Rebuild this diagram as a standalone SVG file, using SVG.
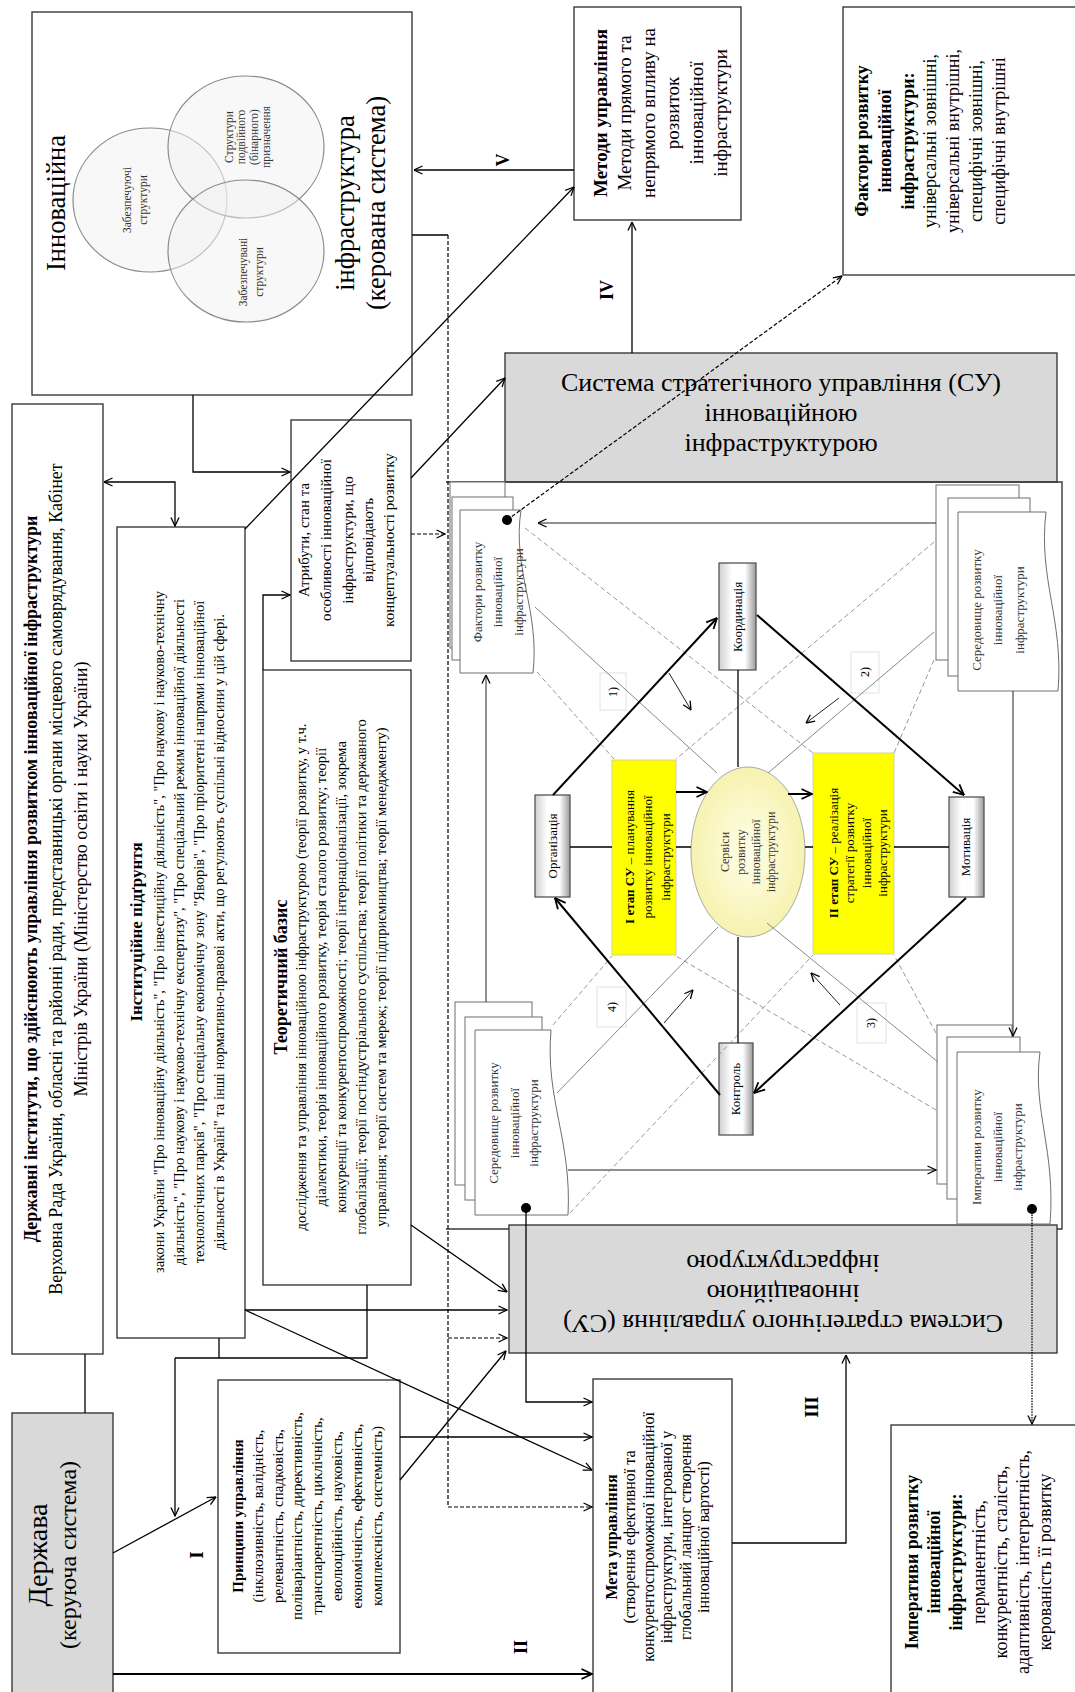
<svg xmlns="http://www.w3.org/2000/svg" width="1075" height="1692" viewBox="0 0 1075 1692">
<defs>
<style>
.t{font-family:"Liberation Serif","Times New Roman",serif;fill:#000}
.b{font-weight:bold}
.bx{fill:#fff;stroke:#3a3a3a;stroke-width:1.4}
.gr{fill:#d9d9d9;stroke:#3a3a3a;stroke-width:1.4}
.stk{fill:#fff;stroke:#6e6e6e;stroke-width:1}
.gb{fill:url(#gg);stroke:#555;stroke-width:1.3}
.ye{fill:#ffff00;stroke:#c8c8a0;stroke-width:0.8}
.lb{fill:#fff;stroke:#e2e2e2;stroke-width:1}
.vn{fill:#f2f2f2;fill-opacity:0.5;stroke:#8a8a8a;stroke-width:1.2}
.c{fill:none;stroke:#000;stroke-width:1.3}
.c1{fill:none;stroke:#222;stroke-width:1}
.ck{fill:none;stroke:#000;stroke-width:2}
.cd{fill:none;stroke:#000;stroke-width:1.2;stroke-dasharray:4 2}
.cp{fill:none;stroke:#000;stroke-width:1.3;stroke-dasharray:1.5 1.2}
.th{fill:none;stroke:#7a7a7a;stroke-width:0.9}
.gd{fill:none;stroke:#8c8c8c;stroke-width:0.9;stroke-dasharray:5 3}
.sm{fill:#333}
</style>
<linearGradient id="gg" x1="0" y1="0" x2="1" y2="0"><stop offset="0" stop-color="#cfcfcf"/><stop offset="0.35" stop-color="#fff"/><stop offset="0.7" stop-color="#fff"/><stop offset="1" stop-color="#9a9a9a"/></linearGradient>
<radialGradient id="eg"><stop offset="0" stop-color="#ffffea"/><stop offset="1" stop-color="#f6f2b0"/></radialGradient>
<marker id="ar" viewBox="0 0 10 10" refX="9.5" refY="5" markerWidth="10" markerHeight="10" markerUnits="userSpaceOnUse" orient="auto-start-reverse"><path d="M1,1 L9.5,5 L1,9" fill="none" stroke="#000" stroke-width="1.3"/></marker>
<marker id="ak" viewBox="0 0 12 12" refX="11.5" refY="6" markerWidth="12" markerHeight="12" markerUnits="userSpaceOnUse" orient="auto"><path d="M1,1 L11.5,6 L1,11" fill="none" stroke="#000" stroke-width="1.8"/></marker>
</defs>
<rect x="0" y="0" width="1075" height="1692" fill="#fff"/>

<g id="innovatsiina">
<rect class="bx" x="32" y="12" width="380" height="383"/>
<ellipse class="vn" cx="150" cy="200" rx="77" ry="72"/>
<ellipse class="vn" cx="246" cy="147" rx="78" ry="71"/>
<ellipse class="vn" cx="246" cy="251" rx="78" ry="71"/>
<text class="t" font-size="26.5" text-anchor="middle" transform="translate(0,203) rotate(-90)"><tspan x="0" y="65">Інноваційна</tspan></text>
<text class="t sm" font-size="11.5" text-anchor="middle" transform="translate(0,200) rotate(-90)"><tspan x="0" y="130.5">Забезпечуючі</tspan><tspan x="0" y="146.5">структури</tspan></text>
<text class="t sm" font-size="11.5" text-anchor="middle" transform="translate(0,137) rotate(-90)"><tspan x="0" y="232.5">Структури</tspan><tspan x="0" y="245">подвійного</tspan><tspan x="0" y="257.5">(бінарного)</tspan><tspan x="0" y="270">призначення</tspan></text>
<text class="t sm" font-size="11.5" text-anchor="middle" transform="translate(0,272) rotate(-90)"><tspan x="0" y="246.5">Забезпечувані</tspan><tspan x="0" y="262.5">структури</tspan></text>
<text class="t" font-size="26.5" text-anchor="middle" transform="translate(0,203) rotate(-90)"><tspan x="0" y="354">інфраструктура</tspan><tspan x="0" y="385">(керована система)</tspan></text>
</g>

<g id="derzhavni-instytuty">
<rect class="bx" x="12" y="404" width="91" height="950"/>
<text class="t" font-size="18" text-anchor="middle" transform="translate(0,879) rotate(-90)"><tspan x="0" y="37" class="b">Державні інститути, що здійснюють управління розвитком інноваційної інфраструктури</tspan><tspan x="0" y="62">Верховна Рада України, обласні та районні ради, представницькі органи місцевого самоврядування, Кабінет</tspan><tspan x="0" y="87">Міністрів України (Міністерство освіти і науки України)</tspan></text>
</g>

<g id="instytutsiine">
<rect class="bx" x="117" y="527" width="128" height="811"/>
<text class="t" font-size="17" text-anchor="middle" transform="translate(0,932) rotate(-90)"><tspan x="0" y="142" class="b">Інституційне підґрунтя</tspan></text>
<text class="t" font-size="14.5" text-anchor="middle" transform="translate(0,932) rotate(-90)"><tspan x="0" y="164">закони України "Про інноваційну діяльність", "Про інвестиційну діяльність", "Про наукову і науково-технічну</tspan><tspan x="0" y="184">діяльність", "Про наукову і науково-технічну експертизу", "Про спеціальний режим інноваційної діяльності</tspan><tspan x="0" y="204">технологічних парків", "Про спеціальну економічну зону "Яворів", "Про пріоритетні напрями інноваційної</tspan><tspan x="0" y="224">діяльності в Україні" та інші нормативно-правові акти, що регулюють суспільні відносини у цій сфері.</tspan></text>
</g>

<g id="atrybuty">
<rect class="bx" x="291" y="420" width="120" height="241"/>
<text class="t" font-size="15" text-anchor="middle" transform="translate(0,540) rotate(-90)"><tspan x="0" y="309">Атрибути, стан та</tspan><tspan x="0" y="331">особливості інноваційної</tspan><tspan x="0" y="353">інфраструктури, що</tspan><tspan x="0" y="373">відповідають</tspan><tspan x="0" y="394">концептуальності розвитку</tspan></text>
</g>

<g id="teoretychnyi">
<rect class="bx" x="263" y="670" width="148" height="615"/>
<text class="t" font-size="18" text-anchor="middle" transform="translate(0,977) rotate(-90)"><tspan x="0" y="287" class="b">Теоретичний базис</tspan></text>
<text class="t" font-size="14.5" text-anchor="middle" transform="translate(0,977) rotate(-90)"><tspan x="0" y="306">дослідження та управління інноваційною інфраструктурою (теорії розвитку, у т.ч.</tspan><tspan x="0" y="326">діалектики, теорія інноваційного розвитку, теорія сталого розвитку; теорії</tspan><tspan x="0" y="346">конкуренції та конкурентоспроможності; теорії інтернаціоналізації, зокрема</tspan><tspan x="0" y="366">глобалізації; теорії постіндустріального суспільства; теорії політики та державного</tspan><tspan x="0" y="386">управління; теорії систем та мереж; теорії підприємництва; теорії менеджменту)</tspan></text>
</g>

<g id="pryntsypy">
<rect class="bx" x="218" y="1380" width="182" height="273"/>
<text class="t" font-size="15" text-anchor="middle" transform="translate(0,1516) rotate(-90)"><tspan x="0" y="243" class="b">Принципи управління</tspan><tspan x="0" y="263">(інклюзивність, валідність,</tspan><tspan x="0" y="283">релевантність, спадковість,</tspan><tspan x="0" y="302">поліваріантність, директивність,</tspan><tspan x="0" y="322">транспарентність, циклічність,</tspan><tspan x="0" y="342">еволюційність, науковість,</tspan><tspan x="0" y="362">економічність, ефективність,</tspan><tspan x="0" y="382">комплексність, системність)</tspan></text>
</g>

<g id="derzhava">
<rect class="gr" x="12" y="1413" width="101" height="290"/>
<text class="t" text-anchor="middle" transform="translate(0,1555) rotate(-90)"><tspan x="0" y="47" font-size="28">Держава</tspan><tspan x="0" y="76" font-size="24">(керуюча система)</tspan></text>
</g>

<g id="meta">
<rect class="bx" x="593" y="1379" width="139" height="330"/>
<text class="t" font-size="16" text-anchor="middle" transform="translate(0,1537) rotate(-90)"><tspan x="0" y="617" class="b">Мета управління</tspan><tspan x="0" y="635">(створення ефективної та</tspan><tspan x="0" y="654">конкурентоспроможної інноваційної</tspan><tspan x="0" y="672">інфраструктури, інтегрованої у</tspan><tspan x="0" y="691">глобальний ланцюг створення</tspan><tspan x="0" y="709">інноваційної вартості)</tspan></text>
</g>

<g id="imperatyvy">
<rect class="bx" x="891" y="1425" width="200" height="290"/>
<text class="t" font-size="18" text-anchor="middle" transform="translate(0,1562) rotate(-90)"><tspan x="0" y="918" class="b">Імперативи розвитку</tspan><tspan x="0" y="940" class="b">інноваційної</tspan><tspan x="0" y="962" class="b">інфраструктури:</tspan><tspan x="0" y="985">перманентність,</tspan><tspan x="0" y="1007">конкурентність, сталість,</tspan><tspan x="0" y="1029">адаптивність, інтегрентність,</tspan><tspan x="0" y="1051">керованість її розвитку</tspan></text>
</g>

<g id="faktory">
<rect class="bx" x="843" y="7" width="250" height="268"/>
<text class="t" font-size="18" text-anchor="middle" transform="translate(0,141) rotate(-90)"><tspan x="0" y="868" class="b">Фактори розвитку</tspan><tspan x="0" y="891" class="b">інноваційної</tspan><tspan x="0" y="914" class="b">інфраструктури:</tspan><tspan x="0" y="936">універсальні зовнішні,</tspan><tspan x="0" y="959">універсальні внутрішні,</tspan><tspan x="0" y="982">специфічні зовнішні,</tspan><tspan x="0" y="1005">специфічні внутрішні</tspan></text>
</g>

<g id="metody">
<rect class="bx" x="574" y="7" width="167" height="213"/>
<text class="t" font-size="19" text-anchor="middle" transform="translate(0,113) rotate(-90)"><tspan x="0" y="607" class="b">Методи управління</tspan><tspan x="0" y="631">Методи прямого та</tspan><tspan x="0" y="655">непрямого впливу на</tspan><tspan x="0" y="679">розвиток</tspan><tspan x="0" y="703">інноваційної</tspan><tspan x="0" y="727">інфраструктури</tspan></text>
</g>

<g id="su-top">
<rect class="gr" x="505" y="353" width="552" height="129"/>
<text class="t" font-size="26" text-anchor="middle"><tspan x="781" y="391">Система стратегічного управління (СУ)</tspan><tspan x="781" y="421">інноваційною</tspan><tspan x="781" y="451">інфраструктурою</tspan></text>
</g>

<g id="frame">
<path d="M446,482 H1062 V1229 H446" fill="none" stroke="#3a3a3a" stroke-width="1.4"/>
</g>

<g id="su-bottom">
<rect class="gr" x="509" y="1225" width="548" height="128"/>
<text class="t" font-size="26" text-anchor="middle" transform="rotate(180,783,1289)"><tspan x="783" y="1263">Система стратегічного управління (СУ)</tspan><tspan x="783" y="1293">інноваційною</tspan><tspan x="783" y="1323">інфраструктурою</tspan></text>
</g>

<g id="stack-faktory">
<rect class="stk" x="450" y="482" width="55" height="166"/>
<rect class="stk" x="452" y="497" width="61" height="163"/>
<path class="stk" d="M460,510 H521 C512,570 540,610 533,673 H460 Z"/>
<text class="t sm" font-size="13" text-anchor="middle" transform="translate(0,592) rotate(-90)"><tspan x="0" y="482">Фактори розвитку</tspan><tspan x="0" y="502">інноваційної</tspan><tspan x="0" y="523">інфраструктури</tspan></text>
</g>

<g id="stack-seredovyshche-top">
<rect class="stk" x="936" y="485" width="83" height="175"/>
<rect class="stk" x="948" y="498" width="82" height="178"/>
<path class="stk" d="M958,512 H1046 C1038,580 1064,620 1058,691 H958 Z"/>
<text class="t sm" font-size="13" text-anchor="middle" transform="translate(0,610) rotate(-90)"><tspan x="0" y="981">Середовище розвитку</tspan><tspan x="0" y="1002">інноваційної</tspan><tspan x="0" y="1024">інфраструктури</tspan></text>
</g>

<g id="stack-seredovyshche-bottom">
<rect class="stk" x="455" y="1002" width="77" height="183"/>
<rect class="stk" x="465" y="1017" width="77" height="183"/>
<path class="stk" d="M475,1030 H551 C545,1100 572,1140 568,1215 H475 Z"/>
<text class="t sm" font-size="13" text-anchor="middle" transform="translate(0,1123) rotate(-90)"><tspan x="0" y="498">Середовище розвитку</tspan><tspan x="0" y="519">інноваційної</tspan><tspan x="0" y="538">інфраструктури</tspan></text>
</g>

<g id="stack-imperatyvy">
<rect class="stk" x="937" y="1025" width="75" height="159"/>
<rect class="stk" x="947" y="1037" width="73" height="162"/>
<path class="stk" d="M957,1052 H1040 C1032,1110 1056,1150 1050,1224 H957 Z"/>
<text class="t sm" font-size="13" text-anchor="middle" transform="translate(0,1147) rotate(-90)"><tspan x="0" y="981">Імперативи розвитку</tspan><tspan x="0" y="1002">інноваційної</tspan><tspan x="0" y="1022">інфраструктури</tspan></text>
</g>

<g id="koordynatsiia">
<rect class="gb" x="719" y="563" width="37" height="107"/>
<text class="t" font-size="13" text-anchor="middle" transform="translate(0,617) rotate(-90)"><tspan x="0" y="742">Координація</tspan></text>
</g>
<g id="orhanizatsiia">
<rect class="gb" x="535" y="795" width="35" height="102"/>
<text class="t" font-size="13" text-anchor="middle" transform="translate(0,846) rotate(-90)"><tspan x="0" y="557">Організація</tspan></text>
</g>
<g id="motyvatsiia">
<rect class="gb" x="949" y="797" width="35" height="100"/>
<text class="t" font-size="13" text-anchor="middle" transform="translate(0,847) rotate(-90)"><tspan x="0" y="970">Мотивація</tspan></text>
</g>
<g id="kontrol">
<rect class="gb" x="719" y="1043" width="34" height="92"/>
<text class="t" font-size="13" text-anchor="middle" transform="translate(0,1089) rotate(-90)"><tspan x="0" y="740">Контроль</tspan></text>
</g>

<g id="etap-1">
<rect class="ye" x="612" y="760" width="64" height="195"/>
<text class="t" font-size="13" text-anchor="middle" transform="translate(0,857) rotate(-90)"><tspan x="0" y="634"><tspan class="b">I етап СУ</tspan> – планування</tspan><tspan x="0" y="652">розвитку інноваційної</tspan><tspan x="0" y="670">інфраструктури</tspan></text>
</g>
<g id="etap-2">
<rect class="ye" x="813" y="753" width="81" height="201"/>
<text class="t" font-size="13" text-anchor="middle" transform="translate(0,853) rotate(-90)"><tspan x="0" y="838"><tspan class="b">II етап СУ</tspan> – реалізація</tspan><tspan x="0" y="854">стратегії розвитку</tspan><tspan x="0" y="871">інноваційної</tspan><tspan x="0" y="887">інфраструктури</tspan></text>
</g>
<g id="servisy">
<ellipse cx="748" cy="852" rx="57" ry="85" fill="url(#eg)" stroke="#a8a8a8" stroke-width="1"/>
<text class="t sm" font-size="12" text-anchor="middle" transform="translate(0,852) rotate(-90)"><tspan x="0" y="729">Сервіси</tspan><tspan x="0" y="745">розвитку</tspan><tspan x="0" y="760">інноваційної</tspan><tspan x="0" y="775">інфраструктури</tspan></text>
</g>

<g id="labels">
<rect class="lb" x="600" y="673" width="26" height="37"/>
<rect class="lb" x="851" y="652" width="28" height="41"/>
<rect class="lb" x="857" y="1003" width="29" height="40"/>
<rect class="lb" x="597" y="987" width="29" height="40"/>
<text class="t" font-size="12" text-anchor="middle" transform="translate(0,692) rotate(-90)"><tspan x="0" y="617">1)</tspan></text>
<text class="t" font-size="12" text-anchor="middle" transform="translate(0,672) rotate(-90)"><tspan x="0" y="869">2)</tspan></text>
<text class="t" font-size="12" text-anchor="middle" transform="translate(0,1023) rotate(-90)"><tspan x="0" y="875">3)</tspan></text>
<text class="t" font-size="12" text-anchor="middle" transform="translate(0,1007) rotate(-90)"><tspan x="0" y="616">4)</tspan></text>
<text class="t b" font-size="18" text-anchor="middle" transform="translate(0,1555) rotate(-90)"><tspan x="0" y="203">I</tspan></text>
<text class="t b" font-size="18" text-anchor="middle" transform="translate(0,1647) rotate(-90)"><tspan x="0" y="527">II</tspan></text>
<text class="t b" font-size="18" text-anchor="middle" transform="translate(0,1407) rotate(-90)"><tspan x="0" y="818">III</tspan></text>
<text class="t b" font-size="18" text-anchor="middle" transform="translate(0,290) rotate(-90)"><tspan x="0" y="613">IV</tspan></text>
<text class="t b" font-size="18" text-anchor="middle" transform="translate(0,160) rotate(-90)"><tspan x="0" y="509">V</tspan></text>
</g>

<g id="connectors">
<path class="c" d="M574,170 H414" marker-end="url(#ar)"/>
<path class="c" d="M632,353 V222" marker-end="url(#ar)"/>
<path class="c" d="M245,529 L574,187" marker-end="url(#ar)"/>
<path class="c" d="M411,478 L505,378" marker-end="url(#ar)"/>
<path class="cd" d="M411,534 H445" marker-end="url(#ar)"/>
<path class="c" d="M412,235 H448"/>
<path class="cd" d="M448,235 V1507 H592" marker-end="url(#ar)"/>
<path class="cd" d="M448,1338 H507" marker-end="url(#ar)"/>
<path class="c" d="M193,395 V472 H290" marker-end="url(#ar)"/>
<path class="c" d="M104,482 H175 V526" marker-start="url(#ar)" marker-end="url(#ar)"/>
<path class="c" d="M263,670 V595 H290" marker-end="url(#ar)"/>
<path class="c" d="M219,1338 V1358 M367,1285 V1358 H175"/>
<path class="c" d="M175,1358 V1516" marker-end="url(#ar)"/>
<path class="c" d="M113,1553 L216,1497" marker-end="url(#ar)"/>
<path class="ck" d="M113,1674 H592" marker-end="url(#ak)"/>
<path class="c" d="M85,1354 V1413"/>
<path class="c" d="M245,1310 H507" marker-end="url(#ar)"/>
<path class="c" d="M245,1310 L592,1470" marker-end="url(#ar)"/>
<path class="c" d="M411,1225 L507,1292" marker-end="url(#ar)"/>
<path class="c" d="M400,1480 L506,1351" marker-end="url(#ar)"/>
<path class="c" d="M400,1437 H592" marker-end="url(#ar)"/>
<path class="c" d="M732,1543 H846 V1355" marker-end="url(#ar)"/>
<path class="cd" d="M507,520 L842,276" marker-end="url(#ar)"/>
<path class="c" d="M526,1208 V1402 H592" marker-end="url(#ar)"/>
<path class="cp" d="M1032,1209 V1424" marker-end="url(#ar)"/>

<path class="c1" d="M936,523 H538" marker-end="url(#ar)"/>
<path class="c1" d="M486,1002 V675" marker-end="url(#ar)"/>
<path class="c1" d="M1013,691 V1036" marker-end="url(#ar)"/>
<path class="c1" d="M568,1170 H936" marker-end="url(#ar)"/>

<path class="gd" d="M525,528 L813,753"/>
<path class="th" d="M535,607 L717,773"/>
<path class="gd" d="M537,672 L614,759"/>
<path class="gd" d="M934,542 L676,759"/>
<path class="th" d="M934,632 L768,773"/>
<path class="gd" d="M934,660 L894,753"/>
<path class="gd" d="M553,1025 L612,956"/>
<path class="th" d="M557,1093 L718,927"/>
<path class="gd" d="M570,1213 L813,955"/>
<path class="th" d="M938,1062 L767,923"/>
<path class="gd" d="M936,1110 L676,956"/>
<path class="gd" d="M936,1033 L894,955"/>

<path class="ck" d="M553,795 L717,618" marker-end="url(#ak)"/>
<path class="ck" d="M757,615 L964,795" marker-end="url(#ak)"/>
<path class="ck" d="M966,898 L754,1093" marker-end="url(#ak)"/>
<path class="ck" d="M720,1095 L555,898" marker-end="url(#ak)"/>
<path class="ck" d="M676,792 H707" marker-end="url(#ak)"/>
<path class="ck" d="M788,794 H812" marker-end="url(#ak)"/>
<path class="c" stroke-width="1.6" d="M570,847 H612 M676,847 H691 M805,847 H813 M894,847 H949 M738,670 V767 M738,937 V1043"/>
<path class="c1" d="M669,673 L691,710" marker-end="url(#ar)"/>
<path class="c1" d="M839,698 L806,723" marker-end="url(#ar)"/>
<path class="c1" d="M840,1005 L811,973" marker-end="url(#ar)"/>
<path class="c1" d="M664,1023 L693,990" marker-end="url(#ar)"/>
<circle cx="507" cy="520" r="5" fill="#000"/>
<circle cx="526" cy="1208" r="5" fill="#000"/>
<circle cx="1032" cy="1209" r="5" fill="#000"/>
</g>
</svg>
